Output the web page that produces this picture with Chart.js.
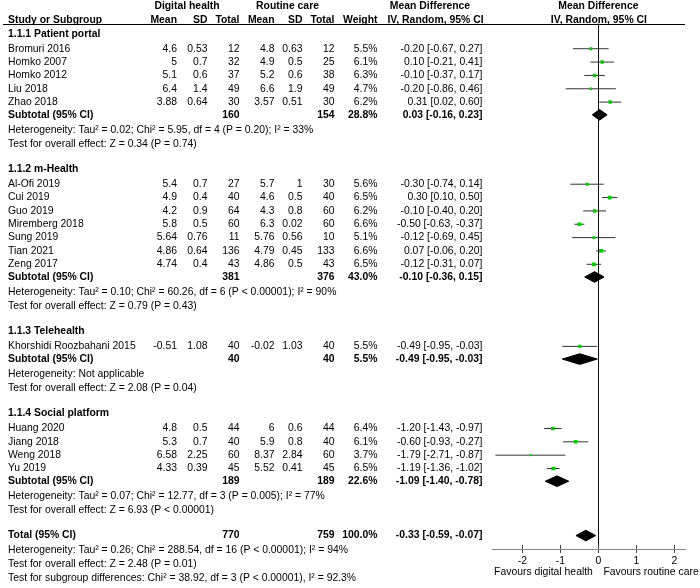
<!DOCTYPE html>
<html>
<head>
<meta charset="utf-8">
<script src="https://cdn.jsdelivr.net/npm/chart.js"></script>
<style>
  html, body { margin: 0; padding: 0; background: #fff; }
  canvas { display: block; }
</style>
</head>
<body>
<canvas id="forest" width="700" height="588"></canvas>
<script>
// Study level data
const studyNames = ['Bromuri 2016', 'Homko 2007', 'Homko 2012', 'Liu 2018', 'Zhao 2018',
  'Al-Ofi 2019', 'Cui 2019', 'Guo 2019', 'Miremberg 2018', 'Sung 2019', 'Tian 2021', 'Zeng 2017',
  'Khorshidi Roozbahani 2015',
  'Huang 2020', 'Jiang 2018', 'Weng 2018', 'Yu 2019'];
const studyGroup = [0, 0, 0, 0, 0, 1, 1, 1, 1, 1, 1, 1, 2, 3, 3, 3, 3];
const dhMean = [4.6, 5, 5.1, 6.4, 3.88, 5.4, 4.9, 4.2, 5.8, 5.64, 4.86, 4.74, -0.51, 4.8, 5.3, 6.58, 4.33];
const dhSD = [0.53, 0.7, 0.6, 1.4, 0.64, 0.7, 0.4, 0.9, 0.5, 0.76, 0.64, 0.4, 1.08, 0.5, 0.7, 2.25, 0.39];
const dhN = [12, 32, 37, 49, 30, 27, 40, 64, 60, 11, 136, 43, 40, 44, 40, 60, 45];
const rcMean = [4.8, 4.9, 5.2, 6.6, 3.57, 5.7, 4.6, 4.3, 6.3, 5.76, 4.79, 4.86, -0.02, 6, 5.9, 8.37, 5.52];
const rcSD = [0.63, 0.5, 0.6, 1.9, 0.51, 1, 0.5, 0.8, 0.02, 0.56, 0.45, 0.5, 1.03, 0.6, 0.8, 2.84, 0.41];
const rcN = [12, 25, 38, 49, 30, 30, 40, 60, 60, 10, 133, 43, 40, 44, 40, 60, 45];
const studyWeight = [5.5, 6.1, 6.3, 4.7, 6.2, 5.6, 6.5, 6.2, 6.6, 5.1, 6.6, 6.5, 5.5, 6.4, 6.1, 3.7, 6.5];
const studyMD = [-0.20, 0.10, -0.10, -0.20, 0.31, -0.30, 0.30, -0.10, -0.50, -0.12, 0.07, -0.12, -0.49, -1.20, -0.60, -1.79, -1.19];
const studyLo = [-0.67, -0.21, -0.37, -0.86, 0.02, -0.74, 0.10, -0.40, -0.63, -0.69, -0.06, -0.31, -0.95, -1.43, -0.93, -2.71, -1.36];
const studyHi = [0.27, 0.41, 0.17, 0.46, 0.60, 0.14, 0.50, 0.20, -0.37, 0.45, 0.20, 0.07, -0.03, -0.97, -0.27, -0.87, -1.02];

// Subgroup summaries
const groupNames = ['1.1.1 Patient portal', '1.1.2 m-Health', '1.1.3 Telehealth', '1.1.4 Social platform'];
const subDhN = [160, 381, 40, 189];
const subRcN = [154, 376, 40, 189];
const subWeight = [28.8, 43.0, 5.5, 22.6];
const subMD = [0.03, -0.10, -0.49, -1.09];
const subLo = [-0.16, -0.36, -0.95, -1.40];
const subHi = [0.23, 0.15, -0.03, -0.78];
const groupHet = [
  'Heterogeneity: Tau\u00b2 = 0.02; Chi\u00b2 = 5.95, df = 4 (P = 0.20); I\u00b2 = 33%',
  'Heterogeneity: Tau\u00b2 = 0.10; Chi\u00b2 = 60.26, df = 6 (P < 0.00001); I\u00b2 = 90%',
  'Heterogeneity: Not applicable',
  'Heterogeneity: Tau\u00b2 = 0.07; Chi\u00b2 = 12.77, df = 3 (P = 0.005); I\u00b2 = 77%'
];
const groupTest = [
  'Test for overall effect: Z = 0.34 (P = 0.74)',
  'Test for overall effect: Z = 0.79 (P = 0.43)',
  'Test for overall effect: Z = 2.08 (P = 0.04)',
  'Test for overall effect: Z = 6.93 (P < 0.00001)'
];

// Overall
const totalN = [770, 759];
const totalWeight = 100.0;
const totalEffect = [-0.33, -0.59, -0.07];
const totalNotes = [
  'Heterogeneity: Tau\u00b2 = 0.26; Chi\u00b2 = 288.54, df = 16 (P < 0.00001); I\u00b2 = 94%',
  'Test for overall effect: Z = 2.48 (P = 0.01)',
  'Test for subgroup differences: Chi\u00b2 = 38.92, df = 3 (P < 0.00001), I\u00b2 = 92.3%'
];

const xTicks = [-2, -1, 0, 1, 2];

// ---- row layout (in line units) ----
const studyRow = [];
const groupRow = [], subRow = [], hetRow = [], testRow = [];
let pos = 0.76;
groupNames.forEach((name, g) => {
  groupRow[g] = pos;
  pos += 1.13;
  let first = true;
  studyGroup.forEach((sg, i) => {
    if (sg !== g) return;
    if (!first) pos += 1;
    first = false;
    studyRow[i] = pos;
  });
  pos += 0.95; subRow[g] = pos;
  pos += 1.12; hetRow[g] = pos;
  pos += 1.05; testRow[g] = pos;
  pos += 1.9;
});
const totalRow = pos;
const noteRows = [pos + 1.12, pos + 2.17, pos + 3.22];

const FONT = '"Liberation Sans", Arial, sans-serif';
const FS = 10.4;
const DIAMOND_H = 0.4;

function fmt2(v) { return v.toFixed(2); }
function ciText(md, lo, hi) { return fmt2(md) + ' [' + fmt2(lo) + ', ' + fmt2(hi) + ']'; }

// ---- datasets ----
const datasets = [];
studyNames.forEach((name, i) => {
  datasets.push({
    data: [{ x: studyLo[i], y: studyRow[i] }, { x: studyHi[i], y: studyRow[i] }],
    showLine: true,
    borderColor: '#333',
    borderWidth: 1,
    pointRadius: 0,
    order: 2
  });
});
datasets.push({
  data: studyNames.map((n, i) => ({ x: studyMD[i], y: studyRow[i] })),
  pointStyle: 'rect',
  pointRadius: studyWeight.map(w => w * 0.4),
  pointBackgroundColor: '#00cc00',
  pointBorderWidth: 0,
  showLine: false,
  order: 1
});

function diamond(md, lo, hi, row) {
  return {
    data: [
      { x: lo, y: row }, { x: md, y: row - DIAMOND_H }, { x: hi, y: row },
      { x: md, y: row + DIAMOND_H }, { x: lo, y: row }
    ],
    showLine: true,
    fill: 'shape',
    backgroundColor: '#000',
    borderColor: '#000',
    borderWidth: 1,
    pointRadius: 0,
    order: 1
  };
}
groupNames.forEach((n, g) => datasets.push(diamond(subMD[g], subLo[g], subHi[g], subRow[g])));
datasets.push(diamond(totalEffect[0], totalEffect[1], totalEffect[2], totalRow));

// ---- text table plugin ----
const col = { dhMean: 177, dhSD: 207.5, dhN: 239.5, rcMean: 274.5, rcSD: 302.5, rcN: 334.5, weight: 377.5, ci: 482.5 };

const tablePlugin = {
  id: 'table',
  afterDraw(chart) {
    const ctx = chart.ctx;
    const ys = chart.scales.y;
    const xs = chart.scales.x;
    const area = chart.chartArea;
    const zero = xs.getPixelForValue(0);

    function txt(s, x, y, align, bold) {
      ctx.font = (bold ? 'bold ' : '') + FS + 'px ' + FONT;
      ctx.textAlign = align || 'left';
      ctx.fillText(String(s), x, y);
    }
    ctx.save();
    ctx.fillStyle = '#000';
    ctx.textBaseline = 'middle';

    // header
    const h1 = area.top - 17.3, h2 = area.top - 3.8;
    txt('Digital health', 187, h1, 'center', true);
    txt('Routine care', 287.5, h1, 'center', true);
    txt('Mean Difference', 430, h1, 'center', true);
    txt('Mean Difference', zero, h1, 'center', true);
    txt('Study or Subgroup', 8, h2, 'left', true);
    txt('Mean', col.dhMean, h2, 'right', true);
    txt('SD', col.dhSD, h2, 'right', true);
    txt('Total', col.dhN, h2, 'right', true);
    txt('Mean', col.rcMean, h2, 'right', true);
    txt('SD', col.rcSD, h2, 'right', true);
    txt('Total', col.rcN, h2, 'right', true);
    txt('Weight', col.weight, h2, 'right', true);
    txt('IV, Random, 95% CI', 435.5, h2, 'center', true);
    txt('IV, Random, 95% CI', zero + 0.5, h2, 'center', true);

    ctx.strokeStyle = '#000';
    ctx.lineWidth = 1;
    ctx.beginPath();
    ctx.moveTo(3, Math.round(area.top) + 0.5);
    ctx.lineTo(area.right, Math.round(area.top) + 0.5);
    ctx.stroke();

    // studies
    studyNames.forEach((name, i) => {
      const y = ys.getPixelForValue(studyRow[i]);
      txt(name, 8, y, 'left', false);
      txt(dhMean[i], col.dhMean, y, 'right');
      txt(dhSD[i], col.dhSD, y, 'right');
      txt(dhN[i], col.dhN, y, 'right');
      txt(rcMean[i], col.rcMean, y, 'right');
      txt(rcSD[i], col.rcSD, y, 'right');
      txt(rcN[i], col.rcN, y, 'right');
      txt(studyWeight[i].toFixed(1) + '%', col.weight, y, 'right');
      txt(ciText(studyMD[i], studyLo[i], studyHi[i]), col.ci, y, 'right');
    });

    // groups
    groupNames.forEach((name, g) => {
      txt(name, 8, ys.getPixelForValue(groupRow[g]), 'left', true);
      const y = ys.getPixelForValue(subRow[g]);
      txt('Subtotal (95% CI)', 8, y, 'left', true);
      txt(subDhN[g], col.dhN, y, 'right', true);
      txt(subRcN[g], col.rcN, y, 'right', true);
      txt(subWeight[g].toFixed(1) + '%', col.weight, y, 'right', true);
      txt(ciText(subMD[g], subLo[g], subHi[g]), col.ci, y, 'right', true);
      txt(groupHet[g], 8, ys.getPixelForValue(hetRow[g]), 'left');
      txt(groupTest[g], 8, ys.getPixelForValue(testRow[g]), 'left');
    });

    // total
    const ty = ys.getPixelForValue(totalRow);
    txt('Total (95% CI)', 8, ty, 'left', true);
    txt(totalN[0], col.dhN, ty, 'right', true);
    txt(totalN[1], col.rcN, ty, 'right', true);
    txt(totalWeight.toFixed(1) + '%', col.weight, ty, 'right', true);
    txt(ciText(totalEffect[0], totalEffect[1], totalEffect[2]), col.ci, ty, 'right', true);
    totalNotes.forEach((s, k) => txt(s, 8, ys.getPixelForValue(noteRows[k]), 'left'));

    // upper half of the axis ticks
    ctx.strokeStyle = '#444';
    ctx.beginPath();
    xTicks.forEach(v => {
      const x = Math.round(xs.getPixelForValue(v)) + 0.5;
      ctx.moveTo(x, area.bottom - 4);
      ctx.lineTo(x, area.bottom);
    });
    ctx.stroke();

    // favours labels
    const fy = area.bottom + 23.5;
    txt('Favours digital health', zero - 5.5, fy, 'right');
    txt('Favours routine care', zero + 5, fy, 'left');
    ctx.restore();
  }
};

new Chart(document.getElementById('forest'), {
  type: 'scatter',
  data: { datasets },
  options: {
    responsive: false,
    animation: false,
    layout: { padding: { left: 492, right: 15, top: 23.5, bottom: 18.5 } },
    plugins: { legend: { display: false }, tooltip: { enabled: false } },
    scales: {
      x: {
        type: 'linear',
        min: -2.8,
        max: 2.28,
        afterBuildTicks: axis => { axis.ticks = xTicks.map(v => ({ value: v })); },
        grid: {
          drawOnChartArea: true,
          color: c => (c.tick && c.tick.value === 0 ? '#111' : 'rgba(0,0,0,0)'),
          tickColor: '#444',
          tickLength: 4
        },
        border: { display: true, color: '#888', width: 1 },
        ticks: {
          autoSkip: false,
          maxRotation: 0,
          padding: 2,
          color: '#000',
          font: { family: FONT, size: FS }
        }
      },
      y: {
        type: 'linear',
        display: false,
        reverse: true,
        min: 0,
        max: 39.37
      }
    }
  },
  plugins: [tablePlugin]
});
</script>
</body>
</html>
